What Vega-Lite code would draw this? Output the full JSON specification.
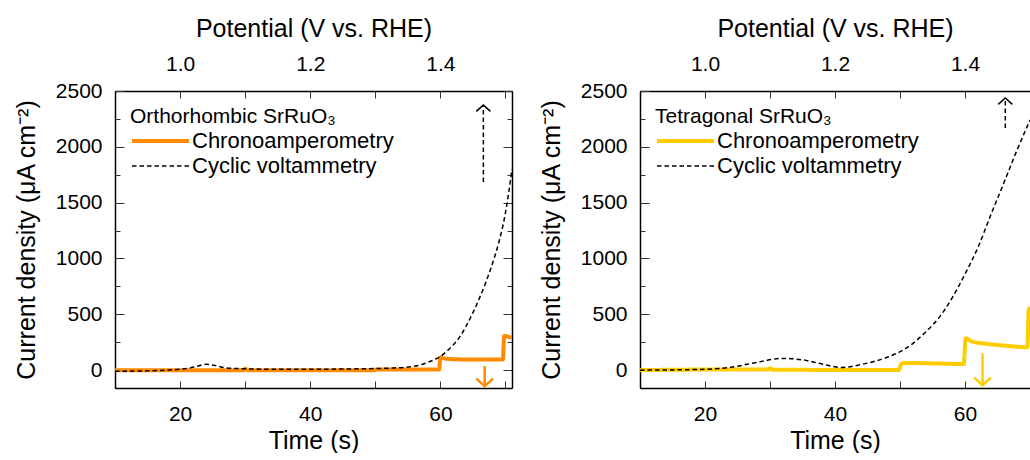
{
  "$schema": "https://vega.github.io/schema/vega-lite/v6.json",
  "background": "white",
  "padding": {"left": 14, "top": 16, "right": 0, "bottom": 0},
  "spacing": 128,
  "bounds": "flush",
  "resolve": {
    "scale": {"color": "independent", "strokeDash": "independent", "strokeWidth": "independent"},
    "legend": {"color": "independent", "strokeDash": "independent", "strokeWidth": "independent"}
  },
  "datasets": {
    "leftLines": [
      {"t": 10, "j": 0, "series": "Chronoamperometry"},
      {"t": 20, "j": 0, "series": "Chronoamperometry"},
      {"t": 29.7, "j": 0, "series": "Chronoamperometry"},
      {"t": 30, "j": 12, "series": "Chronoamperometry"},
      {"t": 30.4, "j": 0, "series": "Chronoamperometry"},
      {"t": 40, "j": -2, "series": "Chronoamperometry"},
      {"t": 49.8, "j": -2, "series": "Chronoamperometry"},
      {"t": 50.1, "j": 5, "series": "Chronoamperometry"},
      {"t": 59.8, "j": 5, "series": "Chronoamperometry"},
      {"t": 60.0, "j": 115, "series": "Chronoamperometry"},
      {"t": 60.6, "j": 105, "series": "Chronoamperometry"},
      {"t": 62, "j": 98, "series": "Chronoamperometry"},
      {"t": 65, "j": 95, "series": "Chronoamperometry"},
      {"t": 69.6, "j": 95, "series": "Chronoamperometry"},
      {"t": 69.8, "j": 305, "series": "Chronoamperometry"},
      {"t": 70.3, "j": 300, "series": "Chronoamperometry"},
      {"t": 71, "j": 290, "series": "Chronoamperometry"},
      {"t": 10, "j": -10, "series": "Cyclic voltammetry"},
      {"t": 14, "j": -8, "series": "Cyclic voltammetry"},
      {"t": 18, "j": 0, "series": "Cyclic voltammetry"},
      {"t": 20, "j": 8, "series": "Cyclic voltammetry"},
      {"t": 22, "j": 25, "series": "Cyclic voltammetry"},
      {"t": 24, "j": 52, "series": "Cyclic voltammetry"},
      {"t": 25.5, "j": 40, "series": "Cyclic voltammetry"},
      {"t": 27, "j": 20, "series": "Cyclic voltammetry"},
      {"t": 30, "j": 12, "series": "Cyclic voltammetry"},
      {"t": 35, "j": 8, "series": "Cyclic voltammetry"},
      {"t": 40, "j": 8, "series": "Cyclic voltammetry"},
      {"t": 45, "j": 10, "series": "Cyclic voltammetry"},
      {"t": 50, "j": 14, "series": "Cyclic voltammetry"},
      {"t": 53, "j": 20, "series": "Cyclic voltammetry"},
      {"t": 55, "j": 28, "series": "Cyclic voltammetry"},
      {"t": 57, "j": 48, "series": "Cyclic voltammetry"},
      {"t": 58, "j": 68, "series": "Cyclic voltammetry"},
      {"t": 59, "j": 92, "series": "Cyclic voltammetry"},
      {"t": 60, "j": 122, "series": "Cyclic voltammetry"},
      {"t": 61, "j": 170, "series": "Cyclic voltammetry"},
      {"t": 62, "j": 228, "series": "Cyclic voltammetry"},
      {"t": 63, "j": 300, "series": "Cyclic voltammetry"},
      {"t": 64, "j": 400, "series": "Cyclic voltammetry"},
      {"t": 65, "j": 515, "series": "Cyclic voltammetry"},
      {"t": 66, "j": 645, "series": "Cyclic voltammetry"},
      {"t": 67, "j": 790, "series": "Cyclic voltammetry"},
      {"t": 68, "j": 955, "series": "Cyclic voltammetry"},
      {"t": 69, "j": 1150, "series": "Cyclic voltammetry"},
      {"t": 70, "j": 1410, "series": "Cyclic voltammetry"},
      {"t": 71, "j": 1800, "series": "Cyclic voltammetry"}
    ],
    "rightLines": [
      {"t": 10, "j": 0, "series": "Chronoamperometry"},
      {"t": 20, "j": 5, "series": "Chronoamperometry"},
      {"t": 29.7, "j": 5, "series": "Chronoamperometry"},
      {"t": 30, "j": 18, "series": "Chronoamperometry"},
      {"t": 30.4, "j": 4, "series": "Chronoamperometry"},
      {"t": 40, "j": 2, "series": "Chronoamperometry"},
      {"t": 49.8, "j": 2, "series": "Chronoamperometry"},
      {"t": 50.2, "j": 55, "series": "Chronoamperometry"},
      {"t": 50.8, "j": 65, "series": "Chronoamperometry"},
      {"t": 55, "j": 60, "series": "Chronoamperometry"},
      {"t": 59.8, "j": 55, "series": "Chronoamperometry"},
      {"t": 60.1, "j": 285, "series": "Chronoamperometry"},
      {"t": 61, "j": 258, "series": "Chronoamperometry"},
      {"t": 63, "j": 238, "series": "Chronoamperometry"},
      {"t": 66, "j": 220, "series": "Chronoamperometry"},
      {"t": 69.6, "j": 205, "series": "Chronoamperometry"},
      {"t": 69.8, "j": 540, "series": "Chronoamperometry"},
      {"t": 70, "j": 560, "series": "Chronoamperometry"},
      {"t": 10, "j": 0, "series": "Cyclic voltammetry"},
      {"t": 15, "j": 2, "series": "Cyclic voltammetry"},
      {"t": 20, "j": 8, "series": "Cyclic voltammetry"},
      {"t": 24, "j": 25, "series": "Cyclic voltammetry"},
      {"t": 28, "j": 70, "series": "Cyclic voltammetry"},
      {"t": 32, "j": 105, "series": "Cyclic voltammetry"},
      {"t": 35, "j": 92, "series": "Cyclic voltammetry"},
      {"t": 38, "j": 55, "series": "Cyclic voltammetry"},
      {"t": 41, "j": 24, "series": "Cyclic voltammetry"},
      {"t": 44, "j": 50, "series": "Cyclic voltammetry"},
      {"t": 46, "j": 78, "series": "Cyclic voltammetry"},
      {"t": 48, "j": 115, "series": "Cyclic voltammetry"},
      {"t": 50, "j": 165, "series": "Cyclic voltammetry"},
      {"t": 52, "j": 240, "series": "Cyclic voltammetry"},
      {"t": 54, "j": 345, "series": "Cyclic voltammetry"},
      {"t": 56, "j": 470, "series": "Cyclic voltammetry"},
      {"t": 58, "j": 645, "series": "Cyclic voltammetry"},
      {"t": 60, "j": 860, "series": "Cyclic voltammetry"},
      {"t": 62, "j": 1100, "series": "Cyclic voltammetry"},
      {"t": 64, "j": 1395, "series": "Cyclic voltammetry"},
      {"t": 66, "j": 1680, "series": "Cyclic voltammetry"},
      {"t": 68, "j": 1970, "series": "Cyclic voltammetry"},
      {"t": 70, "j": 2240, "series": "Cyclic voltammetry"}
    ],
    "leftArrows": [
      {"t": 66.6, "j0": 1685, "j1": 2374, "series": "Cyclic voltammetry"},
      {"t": 66.8, "j0": 36, "j1": -143, "series": "Chronoamperometry"}
    ],
    "rightArrows": [
      {"t": 66.2, "j0": 2168, "j1": 2437, "series": "Cyclic voltammetry"},
      {"t": 62.7, "j0": 150, "j1": -135, "series": "Chronoamperometry"}
    ]
  },
  "hconcat": [
    {
      "width": 397,
      "height": 297,
      "layer": [
        {
          "data": {"name": "leftLines"},
          "mark": {"type": "line", "clip": true, "strokeCap": "butt", "interpolate": "monotone"},
          "encoding": {
            "x": {"field": "t", "type": "quantitative",
              "scale": {"domain": [10, 71], "nice": false, "zero": false},
              "axis": {"orient": "bottom", "title": "Time (s)", "values": [10, 20, 30, 40, 50, 60, 70],
                "labelExpr": "datum.value % 20 == 0 ? datum.label : ''"}},
            "y": {"field": "j", "type": "quantitative",
              "scale": {"domain": [-160, 2500], "nice": false, "zero": false},
              "axis": {"orient": "left", "title": "Current density (μA cm⁻²)", "values": [0, 500, 1000, 1500, 2000, 2500], "format": "d", "tickSize": -9}},
            "color": {"field": "series", "type": "nominal",
              "scale": {"domain": ["Chronoamperometry", "Cyclic voltammetry"], "range": ["#FF8A00", "#000000"]},
              "legend": {"title": "Orthorhombic SrRuO₃"}},
            "strokeDash": {"field": "series", "type": "nominal",
              "scale": {"domain": ["Chronoamperometry", "Cyclic voltammetry"], "range": [[1, 0], [4.5, 3]]},
              "legend": {"title": "Orthorhombic SrRuO₃"}},
            "strokeWidth": {"field": "series", "type": "nominal",
              "scale": {"type": "ordinal", "domain": ["Chronoamperometry", "Cyclic voltammetry"], "range": [4, 1.5]},
              "legend": {"title": "Orthorhombic SrRuO₃"}}
          }
        },
        {
          "data": {"name": "leftLines"},
          "mark": {"type": "line", "opacity": 0},
          "encoding": {
            "x": {"field": "t", "type": "quantitative",
              "axis": {"orient": "top", "title": "Potential (V vs. RHE)", "values": [10, 20, 30, 40, 50, 60, 70],
                "labelExpr": "datum.value % 20 == 0 ? format(0.8 + datum.value / 100, '.1f') : ''"}},
            "y": {"field": "j", "type": "quantitative",
              "axis": {"orient": "right", "title": null, "labels": false, "values": [0, 500, 1000, 1500, 2000, 2500], "tickSize": -9}},
            "detail": {"field": "series"}
          }
        },
        {
          "data": {"name": "leftLines"},
          "mark": {"type": "line", "opacity": 0},
          "encoding": {
            "x": {"field": "t", "type": "quantitative", "axis": null},
            "y": {"field": "j", "type": "quantitative",
              "axis": {"orient": "left", "title": null, "labels": false, "domain": false, "values": [250, 750, 1250, 1750, 2250], "tickSize": -5}},
            "detail": {"field": "series"}
          }
        },
        {
          "data": {"name": "leftLines"},
          "mark": {"type": "line", "opacity": 0},
          "encoding": {
            "x": {"field": "t", "type": "quantitative", "axis": null},
            "y": {"field": "j", "type": "quantitative",
              "axis": {"orient": "right", "title": null, "labels": false, "domain": false, "values": [250, 750, 1250, 1750, 2250], "tickSize": -5}},
            "detail": {"field": "series"}
          }
        },
        {
          "data": {"name": "leftArrows"},
          "transform": [{"filter": "datum.series == 'Cyclic voltammetry'"}],
          "mark": {"type": "rule", "color": "#000000", "strokeWidth": 1.5, "strokeDash": [4.5, 3]},
          "encoding": {
            "x": {"field": "t", "type": "quantitative", "axis": null},
            "y": {"field": "j0", "type": "quantitative", "axis": null},
            "y2": {"field": "j1"}
          }
        },
        {
          "data": {"name": "leftArrows"},
          "transform": [{"filter": "datum.series == 'Chronoamperometry'"}],
          "mark": {"type": "rule", "color": "#FF8A00", "strokeWidth": 2.5},
          "encoding": {
            "x": {"field": "t", "type": "quantitative", "axis": null},
            "y": {"field": "j0", "type": "quantitative", "axis": null},
            "y2": {"field": "j1"}
          }
        },
        {
          "data": {"name": "leftArrows"},
          "transform": [{"filter": "datum.series == 'Cyclic voltammetry'"}],
          "mark": {"type": "point", "shape": "M-1,0.9L0,0L1,0.9", "filled": false, "stroke": "#000000", "strokeWidth": 1.5, "size": 200, "opacity": 1},
          "encoding": {
            "x": {"field": "t", "type": "quantitative", "axis": null},
            "y": {"field": "j1", "type": "quantitative", "axis": null}
          }
        },
        {
          "data": {"name": "leftArrows"},
          "transform": [{"filter": "datum.series == 'Chronoamperometry'"}],
          "mark": {"type": "point", "shape": "M-1,-0.9L0,0L1,-0.9", "filled": false, "stroke": "#FF8A00", "strokeWidth": 2.5, "size": 280, "opacity": 1},
          "encoding": {
            "x": {"field": "t", "type": "quantitative", "axis": null},
            "y": {"field": "j1", "type": "quantitative", "axis": null}
          }
        }
      ],
      "resolve": {"axis": {"x": "independent", "y": "independent"}}
    },
    {
      "width": 390,
      "height": 297,
      "layer": [
        {
          "data": {"name": "rightLines"},
          "mark": {"type": "line", "clip": true, "strokeCap": "butt", "interpolate": "monotone"},
          "encoding": {
            "x": {"field": "t", "type": "quantitative",
              "scale": {"domain": [10, 70], "nice": false, "zero": false},
              "axis": {"orient": "bottom", "title": "Time (s)", "values": [10, 20, 30, 40, 50, 60, 70],
                "labelExpr": "datum.value % 20 == 0 && datum.value < 70 ? datum.label : ''"}},
            "y": {"field": "j", "type": "quantitative",
              "scale": {"domain": [-160, 2500], "nice": false, "zero": false},
              "axis": {"orient": "left", "title": "Current density (μA cm⁻²)", "values": [0, 500, 1000, 1500, 2000, 2500], "format": "d", "tickSize": -9}},
            "color": {"field": "series", "type": "nominal",
              "scale": {"domain": ["Chronoamperometry", "Cyclic voltammetry"], "range": ["#FFCC00", "#000000"]},
              "legend": {"title": "Tetragonal SrRuO₃"}},
            "strokeDash": {"field": "series", "type": "nominal",
              "scale": {"domain": ["Chronoamperometry", "Cyclic voltammetry"], "range": [[1, 0], [4.5, 3]]},
              "legend": {"title": "Tetragonal SrRuO₃"}},
            "strokeWidth": {"field": "series", "type": "nominal",
              "scale": {"type": "ordinal", "domain": ["Chronoamperometry", "Cyclic voltammetry"], "range": [4, 1.5]},
              "legend": {"title": "Tetragonal SrRuO₃"}}
          }
        },
        {
          "data": {"name": "rightLines"},
          "mark": {"type": "line", "opacity": 0},
          "encoding": {
            "x": {"field": "t", "type": "quantitative",
              "axis": {"orient": "top", "title": "Potential (V vs. RHE)", "values": [10, 20, 30, 40, 50, 60, 70],
                "labelExpr": "datum.value % 20 == 0 && datum.value < 70 ? format(0.8 + datum.value / 100, '.1f') : ''"}},
            "y": {"field": "j", "type": "quantitative",
              "axis": {"orient": "left", "title": null, "labels": false, "domain": false, "values": [250, 750, 1250, 1750, 2250], "tickSize": -5}},
            "detail": {"field": "series"}
          }
        },
        {
          "data": {"name": "rightArrows"},
          "transform": [{"filter": "datum.series == 'Cyclic voltammetry'"}],
          "mark": {"type": "rule", "color": "#000000", "strokeWidth": 1.5, "strokeDash": [4.5, 3]},
          "encoding": {
            "x": {"field": "t", "type": "quantitative", "axis": null},
            "y": {"field": "j0", "type": "quantitative", "axis": null},
            "y2": {"field": "j1"}
          }
        },
        {
          "data": {"name": "rightArrows"},
          "transform": [{"filter": "datum.series == 'Chronoamperometry'"}],
          "mark": {"type": "rule", "color": "#FFCC00", "strokeWidth": 2.5},
          "encoding": {
            "x": {"field": "t", "type": "quantitative", "axis": null},
            "y": {"field": "j0", "type": "quantitative", "axis": null},
            "y2": {"field": "j1"}
          }
        },
        {
          "data": {"name": "rightArrows"},
          "transform": [{"filter": "datum.series == 'Cyclic voltammetry'"}],
          "mark": {"type": "point", "shape": "M-1,0.9L0,0L1,0.9", "filled": false, "stroke": "#000000", "strokeWidth": 1.5, "size": 200, "opacity": 1},
          "encoding": {
            "x": {"field": "t", "type": "quantitative", "axis": null},
            "y": {"field": "j1", "type": "quantitative", "axis": null}
          }
        },
        {
          "data": {"name": "rightArrows"},
          "transform": [{"filter": "datum.series == 'Chronoamperometry'"}],
          "mark": {"type": "point", "shape": "M-1,-0.9L0,0L1,-0.9", "filled": false, "stroke": "#FFCC00", "strokeWidth": 2.5, "size": 280, "opacity": 1},
          "encoding": {
            "x": {"field": "t", "type": "quantitative", "axis": null},
            "y": {"field": "j1", "type": "quantitative", "axis": null}
          }
        }
      ],
      "resolve": {"axis": {"x": "independent", "y": "independent"}}
    }
  ],
  "config": {
    "view": {"stroke": null},
    "font": "Liberation Sans",
    "axis": {
      "grid": false,
      "domainColor": "#000000",
      "domainWidth": 1.5,
      "tickColor": "#333333",
      "tickWidth": 1,
      "tickSize": -7,
      "labelFont": "Liberation Sans",
      "labelFontSize": 21,
      "labelColor": "#000000",
      "labelPadding": 22,
      "titleFont": "Liberation Sans",
      "titleFontSize": 25,
      "titleFontWeight": "normal",
      "titleColor": "#000000",
      "titlePadding": 8
    },
    "axisLeft": {"titlePadding": 16},
    "axisTop": {"titlePadding": 12, "labelPadding": 24},
    "axisBottom": {"titlePadding": 4},
    "legend": {
      "orient": "top-left",
      "offset": 15,
      "padding": 0,
      "titleFont": "Liberation Sans",
      "titleFontSize": 21,
      "titleFontWeight": "normal",
      "titleColor": "#000000",
      "titlePadding": 2,
      "titleLimit": 0,
      "labelFont": "Liberation Sans",
      "labelFontSize": 22,
      "labelColor": "#000000",
      "labelLimit": 0,
      "labelOffset": 38,
      "rowPadding": 3,
      "symbolType": "M-1,0L4.7,0",
      "symbolSize": 400
    }
  }
}
